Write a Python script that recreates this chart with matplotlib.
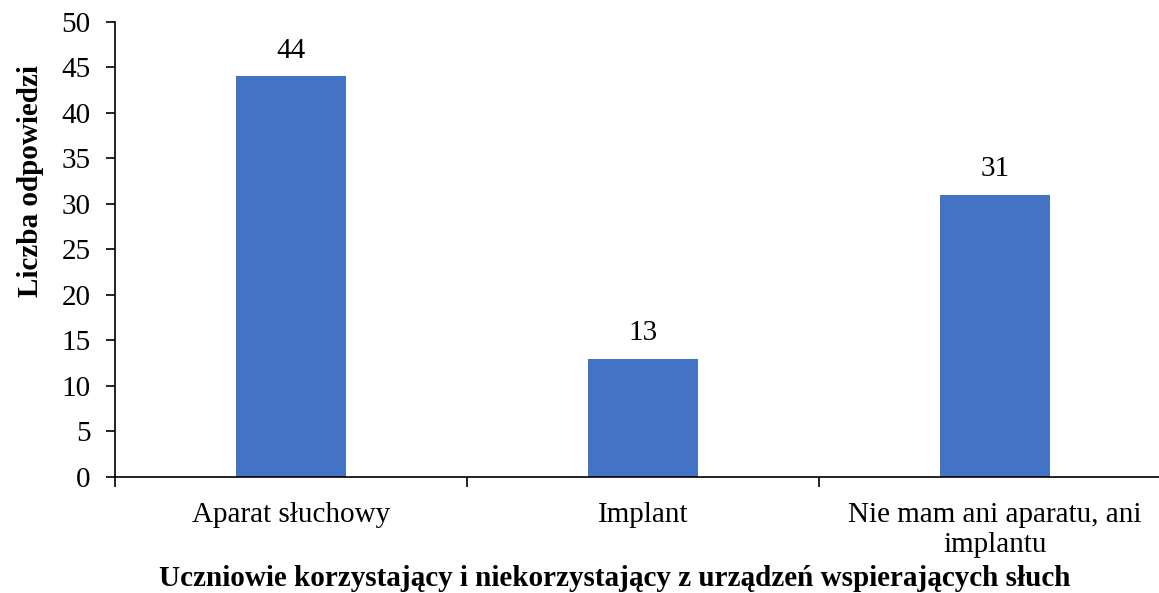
import matplotlib.pyplot as plt
import numpy as np

categories = ["Aparat słuchowy", "Implant", "Nie mam ani aparatu, ani\nimplantu"]
values = [44, 13, 31]
y_ticks = [0, 5, 10, 15, 20, 25, 30, 35, 40, 45, 50]

x_label = "Uczniowie korzystający i niekorzystający z urządzeń wspierających słuch"
y_label = "Liczba odpowiedzi"


def main() -> None:
    plt.rcParams["font.family"] = ["Liberation Serif", "DejaVu Serif"]
    fs = 21

    fig = plt.figure(figsize=(11.59, 5.93), dpi=100)
    left = 115 / 1159
    right = 1171 / 1159
    bottom = 1 - 477 / 593
    top = 1 - 21.5 / 593
    ax = fig.add_axes([left, bottom, right - left, top - bottom])

    x = np.arange(len(categories))
    bars = ax.bar(x, values, width=0.3125, color="#4472C4", zorder=2)

    for b, v in zip(bars, values):
        ax.annotate(str(v), (b.get_x() + b.get_width() / 2, v),
                    xytext=(0, 9), textcoords="offset points",
                    ha="center", va="bottom", fontsize=fs)

    ax.set_xlim(-0.5, len(categories) - 0.5)
    ax.set_ylim(0, 50)
    ax.set_yticks(y_ticks)
    ax.set_xticks(x)
    ax.set_xticklabels(categories, fontsize=fs, linespacing=1.2)
    ax.set_xticks(np.arange(len(categories) + 1) - 0.5, minor=True)
    ax.tick_params(axis="x", which="major", length=0, pad=18)
    ax.tick_params(axis="x", which="minor", length=7, width=1.2,
                   direction="out")
    ax.tick_params(axis="y", labelsize=fs, length=6.5, width=1.2,
                   direction="out", pad=11)

    for side in ["top", "right"]:
        ax.spines[side].set_visible(False)
    ax.spines["left"].set_linewidth(1.2)
    ax.spines["bottom"].set_linewidth(1.2)

    ax.set_ylabel(y_label, fontsize=fs, fontweight="bold")
    ax.yaxis.set_label_coords(-0.080, 0.65)
    ax.yaxis.label.set_verticalalignment("center")
    ax.set_xlabel(x_label, fontsize=fs, fontweight="bold")
    ax.xaxis.set_label_coords(0.4735, -0.222)
    ax.xaxis.label.set_verticalalignment("center")

    fig.savefig("out.png", dpi=100)


if __name__ == "__main__":
    main()
